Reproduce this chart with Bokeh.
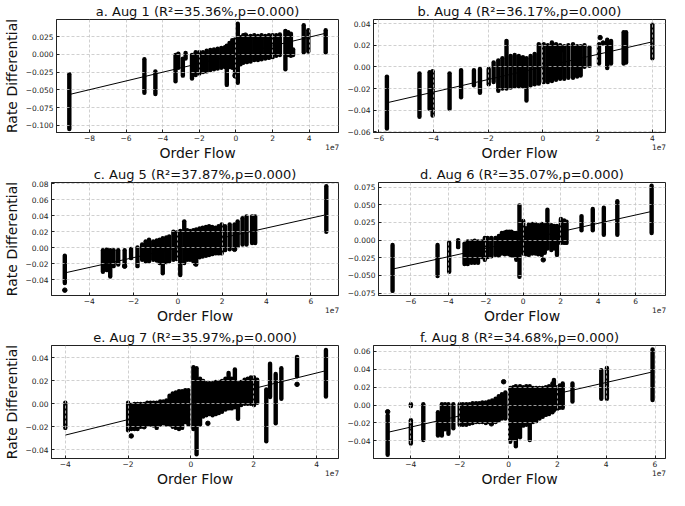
from bokeh.plotting import figure
from bokeh.layouts import column, row
from bokeh.models import (Range1d, ColumnDataSource, FixedTicker, CustomJSTickFormatter,
                          LinearAxis)
from bokeh.embed import file_html
from bokeh.resources import INLINE

FONT = "DejaVu Sans"

# ---------------- data (x in units of 1e7) ----------------
titles = ["a. Aug 1 (R²=35.36%,p=0.000)", "b. Aug 4 (R²=36.17%,p=0.000)",
          "c. Aug 5 (R²=37.87%,p=0.000)", "d. Aug 6 (R²=35.07%,p=0.000)",
          "e. Aug 7 (R²=35.97%,p=0.000)", "f. Aug 8 (R²=34.68%,p=0.000)"]
x_offset_text = "1e7"

# panel a: vertical clusters of points (x, lowest y, highest y)
a_x = [-9.10, -5.00, -4.40, -3.30, -3.15, -2.90, -2.75,
       -2.40, -2.20, -2.00, -1.80, -1.60, -1.40, -1.20, -1.00, -0.80, -0.60, -0.50, -0.35, -0.20, -0.05,
       0.10, 0.25, 0.40, 0.60, 0.80, 1.00, 1.20, 1.40, 1.60, 1.80, 2.00, 2.20, 2.40, 2.70, 2.85, 3.00, 3.12,
       3.70, 3.95, 4.90]
a_lo = [-0.105, -0.054, -0.056, -0.038, -0.019, -0.030, -0.006,
        -0.034, -0.029, -0.027, -0.025, -0.024, -0.022, -0.021, -0.020, -0.019, -0.018, -0.043, -0.018, -0.019, -0.031,
        -0.040, -0.014, -0.012, -0.011, -0.010, -0.008, -0.008, -0.007, -0.006, -0.005, -0.004, -0.002, -0.001, -0.021, -0.001, -0.002, -0.001,
        0.003, 0.004, 0.003]
a_hi = [-0.028, -0.007, -0.024, -0.001, 0.001, -0.006, 0.002,
        -0.001, 0.003, 0.003, 0.003, 0.005, 0.006, 0.007, 0.008, 0.009, 0.010, 0.012, 0.016, 0.020, 0.021,
        0.043, 0.024, 0.027, 0.025, 0.026, 0.027, 0.026, 0.027, 0.026, 0.027, 0.027, 0.027, 0.028, 0.033, 0.031, 0.029, 0.007,
        0.041, 0.034, 0.034]
a_px = [0.52, -0.05]
a_py = [0.027, -0.030]
a_slope, a_icpt = 0.00616, -0.0005

# panel b
b_x = [-5.70, -4.51, -4.14, -4.03, -3.41, -2.99, -2.52, -2.30, -1.98, -1.80,
       -1.63, -1.48, -1.33, -1.18, -1.03, -0.88, -0.73, -0.60, -0.45, -0.30, -0.15, 0.03, 0.18, 0.33,
       0.48, 0.63, 0.78, 0.93, 1.10, 1.25, 1.38,
       1.52, 1.70, 2.05, 2.35, 2.49, 2.95, 3.04, 4.00]
b_lo = [-0.057, -0.046, -0.039, -0.045, -0.039, -0.028, -0.017, -0.024, -0.016, -0.014,
        -0.022, -0.020, -0.020, -0.019, -0.018, -0.018, -0.018, -0.031, -0.017, -0.016, -0.0155, -0.014, -0.014, -0.013,
        -0.012, -0.011, -0.011, -0.010, -0.010, -0.009, -0.008,
        0.000, 0.001, 0.003, -0.001, 0.003, 0.003, 0.004, 0.008]
b_hi = [-0.009, -0.006, -0.005, -0.004, -0.006, -0.003, -0.003, -0.002, -0.002, 0.004,
        0.006, 0.008, 0.024, 0.010, 0.011, 0.010, 0.009, 0.008, 0.010, 0.012, 0.021, 0.021, 0.020, 0.0225,
        0.021, 0.020, 0.019, 0.020, 0.021, 0.019, 0.019,
        0.020, 0.018, 0.021, 0.025, 0.024, 0.032, 0.032, 0.039]
b_px = [2.09, 2.20, 0.70]
b_py = [0.027, 0.022, 0.016]
b_slope, b_icpt = 0.0058, -0.0001

# panel c
c_x = [-5.10, -3.38, -3.20, -3.05, -2.90, -2.69, -2.40, -2.11, -1.82,
       -1.61, -1.45, -1.30, -1.11, -0.95, -0.82, -0.68, -0.52, -0.39, -0.20, -0.05, 0.11, 0.29, 0.42,
       0.55, 0.70, 0.83, 0.98, 1.12, 1.27, 1.41, 1.55, 1.70, 1.84, 1.98, 2.13, 2.34,
       2.56, 2.70, 2.92, 3.10, 3.35, 3.49, 6.70]
c_lo = [-0.044, -0.030, -0.028, -0.036, -0.023, -0.021, -0.023, -0.013, -0.023,
        -0.015, -0.017, -0.017, -0.015, -0.016, -0.019, -0.032, -0.018, -0.017, -0.015, -0.014, -0.034, -0.019, -0.015,
        -0.015, -0.017, -0.021, -0.012, -0.011, -0.010, -0.009, -0.008, -0.007, -0.007, -0.007, -0.003, -0.002,
        0.000, 0.002, 0.004, 0.004, 0.006, 0.006, 0.020]
c_hi = [-0.010, -0.003, -0.002, -0.003, -0.003, -0.003, -0.003, -0.0015, 0.0004,
        0.004, 0.008, 0.010, 0.008, 0.009, 0.010, 0.012, 0.013, 0.014, 0.020, 0.019, 0.021, 0.033, 0.022,
        0.021, 0.022, 0.023, 0.024, 0.025, 0.026, 0.027, 0.026, 0.025, 0.027, 0.029, 0.027, 0.029,
        0.029, 0.033, 0.037, 0.039, 0.039, 0.039, 0.077]
c_px = [-5.10, 2.56, -2.40, 0.80]
c_py = [-0.053, -0.002, -0.023, -0.020]
c_slope, c_icpt = 0.00617, 0.0

# panel d
d_x = [-6.97, -4.57, -3.95, -3.47, -3.13, -2.96, -2.76, -2.59, -2.41, -2.21, -2.05,
       -1.90, -1.70, -1.48, -1.30, -1.14, -0.98, -0.88, -0.75, -0.63, -0.50, -0.37, -0.20, 0.00,
       0.15, 0.30, 0.48, 0.65, 0.80, 0.99, 1.15, 1.29, 1.50, 1.65, 1.80, 2.01, 2.18, 2.31,
       3.11, 3.71, 4.30, 5.02, 6.85]
d_lo = [-0.072, -0.051, -0.045, -0.010, -0.034, -0.034, -0.032, -0.032, -0.032, -0.024, -0.028,
        -0.024, -0.023, -0.021, -0.022, -0.019, -0.020, -0.019, -0.020, -0.019, -0.022, -0.028, -0.052, -0.019,
        -0.020, -0.021, -0.019, -0.019, -0.020, -0.021, -0.018, -0.012, -0.014, -0.012, -0.021, -0.004, -0.004, -0.004,
        0.014, 0.014, 0.0075, 0.0075, 0.010]
d_hi = [-0.007, -0.007, -0.0035, 0.000, -0.005, -0.002, -0.002, -0.001, -0.002, -0.002, 0.003,
        0.003, 0.003, 0.003, 0.006, 0.010, 0.011, 0.012, 0.012, 0.012, 0.010, 0.010, 0.049, 0.027,
        0.017, 0.022, 0.023, 0.023, 0.021, 0.023, 0.021, 0.043, 0.021, 0.020, 0.020, 0.030, 0.028, 0.026,
        0.034, 0.044, 0.046, 0.055, 0.077]
d_px = [1.07, -0.63]
d_py = [-0.028, -0.021]
d_slope, d_icpt = 0.00591, 0.0001

# panel e
e_x = [-4.00, -2.00,
       -1.90, -1.80, -1.70, -1.60, -1.49, -1.39, -1.29, -1.19, -1.09, -0.98, -0.88, -0.78, -0.68, -0.58,
       -0.48, -0.38, -0.28, -0.18, -0.08, 0.08, 0.18, 0.29, 0.39, 0.49, 0.59, 0.69, 0.79, 0.89, 0.99,
       1.10, 1.20, 1.30, 1.40, 1.50, 1.60, 1.71, 1.81, 1.91, 2.01, 2.11,
       2.40, 2.52, 2.70, 2.88, 3.38, 4.30]
e_lo = [-0.021, -0.023,
        -0.022, -0.022, -0.022, -0.020, -0.017, -0.018, -0.018, -0.019, -0.021, -0.018, -0.017, -0.018, -0.018, -0.020,
        -0.021, -0.022, -0.021, -0.016, -0.018, -0.022, -0.044, -0.018, -0.011, -0.010, -0.009, -0.010, -0.009, -0.008, -0.007,
        -0.005, -0.004, -0.004, -0.003, -0.013, -0.001, 0.000, 0.000, 0.000, -0.001, 0.001,
        -0.0326, 0.006, -0.017, 0.0045, 0.024, 0.0064]
e_hi = [0.001, 0.001,
        -0.001, 0.000, 0.000, 0.000, 0.000, 0.001, 0.001, 0.001, 0.001, 0.002, 0.002, 0.003, 0.007, 0.009,
        0.010, 0.011, 0.011, 0.012, 0.012, 0.032, 0.031, 0.022, 0.020, 0.018, 0.018, 0.018, 0.019, 0.019, 0.020,
        0.022, 0.027, 0.022, 0.030, 0.018, 0.019, 0.021, 0.022, 0.023, 0.023, 0.021,
        0.0125, 0.035, 0.026, 0.031, 0.041, 0.047]
e_px = [-1.90, 3.38, -1.49, 0.54, -0.55]
e_py = [-0.028, 0.017, -0.020, -0.017, -0.018]
e_slope, e_icpt = 0.00677, -0.0002

# panel f
f_x = [-4.95, -4.00, -4.00, -3.49, -2.89, -2.73, -2.60, -2.46, -2.26,
       -2.00, -1.87, -1.73, -1.60, -1.47, -1.33, -1.20, -1.07, -0.93, -0.80, -0.67, -0.53, -0.40, -0.27,
       -0.13, 0.07, 0.20, 0.30, 0.47, 0.60, 0.73, 0.87, 1.00, 1.13, 1.27, 1.40, 1.53, 1.66, 1.80,
       1.86, 2.00, 2.10, 2.22, 2.62, 3.80, 4.03, 5.90]
f_lo = [-0.0556, -0.001, -0.043, -0.039, -0.034, -0.034, -0.027, -0.032, -0.026,
        -0.022, -0.022, -0.022, -0.021, -0.020, -0.019, -0.019, -0.019, -0.020, -0.019, -0.019, -0.019, -0.017, -0.015,
        -0.015, -0.041, -0.037, -0.046, -0.036, -0.023, -0.022, -0.039, -0.019, -0.018, -0.015, -0.013, -0.011, -0.010, -0.008,
        -0.006, -0.004, -0.003, -0.003, 0.004, 0.007, 0.007, 0.0055]
f_hi = [-0.0117, 0.001, -0.017, 0.001, -0.008, 0.001, 0.001, 0.001, 0.001,
        0.001, 0.001, 0.001, 0.001, 0.002, 0.002, 0.002, 0.003, 0.003, 0.004, 0.005, 0.007, 0.010, 0.012,
        0.014, 0.019, 0.020, 0.021, 0.021, 0.020, 0.021, 0.021, 0.019, 0.019, 0.019, 0.019, 0.020, 0.021, 0.024,
        0.028, 0.020, 0.022, 0.024, 0.024, 0.039, 0.0415, 0.062]
f_px = [-4.95, -0.20, -0.70]
f_py = [-0.0075, 0.026, -0.021]
f_slope, f_icpt = 0.00622, 0.0003

# axis settings
x_ticks = [[-8, -6, -4, -2, 0, 2, 4], [-6, -4, -2, 0, 2, 4], [-4, -2, 0, 2, 4, 6],
           [-6, -4, -2, 0, 2, 4, 6], [-4, -2, 0, 2, 4], [-4, -2, 0, 2, 4, 6]]
y_ticks = [[-0.100, -0.075, -0.050, -0.025, 0.0, 0.025],
           [-0.06, -0.04, -0.02, 0.0, 0.02, 0.04],
           [-0.04, -0.02, 0.0, 0.02, 0.04, 0.06, 0.08],
           [-0.075, -0.050, -0.025, 0.0, 0.025, 0.050, 0.075],
           [-0.04, -0.02, 0.0, 0.02, 0.04],
           [-0.06, -0.04, -0.02, 0.0, 0.02, 0.04, 0.06]]
y_decimals = [3, 2, 2, 3, 2, 2]
x_lims = [(-9.8, 5.6), (-6.19, 4.48), (-5.7, 7.25), (-7.72, 7.59), (-4.44, 4.70), (-5.53, 6.43)]
y_lims = [(-0.110, 0.049), (-0.0606, 0.0437), (-0.0597, 0.0816), (-0.0785, 0.0816),
          (-0.0477, 0.0509), (-0.0597, 0.0665)]

panels = [(a_x, a_lo, a_hi, a_px, a_py, a_slope, a_icpt),
          (b_x, b_lo, b_hi, b_px, b_py, b_slope, b_icpt),
          (c_x, c_lo, c_hi, c_px, c_py, c_slope, c_icpt),
          (d_x, d_lo, d_hi, d_px, d_py, d_slope, d_icpt),
          (e_x, e_lo, e_hi, e_px, e_py, e_slope, e_icpt),
          (f_x, f_lo, f_hi, f_px, f_py, f_slope, f_icpt)]


def style_axis(ax):
    ax.major_tick_in = 3
    ax.major_tick_out = 0
    ax.minor_tick_line_color = None
    ax.axis_line_color = "#222222"
    ax.major_tick_line_color = "#222222"
    ax.major_label_text_font = FONT
    ax.major_label_text_font_size = "7.5px"
    ax.major_label_text_color = "#222222"
    ax.axis_label_text_font = FONT
    ax.axis_label_text_font_size = "14px"
    ax.axis_label_text_font_style = "normal"
    ax.axis_label_text_color = "#111111"


def make_panel(i):
    xs, lo, hi, px, py, slope, icpt = panels[i]
    left = (i % 2 == 0)
    xlo, xhi = x_lims[i]
    p = figure(width=344 if left else 325, height=163,
               output_backend="svg", toolbar_location=None,
               x_range=Range1d(xlo, xhi), y_range=Range1d(*y_lims[i]),
               min_border_left=10, min_border_right=6 if left else 4,
               min_border_top=0, min_border_bottom=0)
    p.title.text = titles[i]
    p.title.align = "center"
    p.title.text_font = FONT
    p.title.text_font_size = "13px"
    p.title.text_font_style = "normal"
    p.title.text_color = "#111111"
    p.title.standoff = 2

    p.background_fill_color = "white"
    p.border_fill_color = "white"
    p.outline_line_color = "#222222"
    p.outline_line_width = 1
    p.outline_line_alpha = 1

    # grid drawn above the point cloud (as in the original)
    p.grid.grid_line_color = "#c4c4c4"
    p.grid.grid_line_dash = "3 2"
    p.grid.grid_line_width = 0.8

    xax = p.below[0]
    yax = p.left[0]
    style_axis(xax)
    style_axis(yax)
    xax.ticker = FixedTicker(ticks=x_ticks[i])
    xax.formatter = CustomJSTickFormatter(code="return tick.toFixed(0).replace('-', '\u2212');")
    xax.major_label_standoff = 2
    yax.ticker = FixedTicker(ticks=y_ticks[i])
    yax.formatter = CustomJSTickFormatter(
        code="return tick.toFixed(%d).replace('-', '\u2212');" % y_decimals[i])
    yax.major_label_standoff = 3
    yax.axis_label_standoff = 3
    if left:
        yax.axis_label = "Rate Differential"

    # second row below the axis: scale-offset text "1e7" at the right end, and the axis title
    off_ax = LinearAxis(ticker=FixedTicker(ticks=[xhi - 0.022 * (xhi - xlo)]),
                        formatter=CustomJSTickFormatter(code="return '%s';" % x_offset_text))
    style_axis(off_ax)
    off_ax.major_tick_in = 0
    off_ax.axis_line_color = None
    off_ax.major_tick_line_color = None
    off_ax.major_label_standoff = 0
    off_ax.axis_label = "Order Flow"
    off_ax.axis_label_standoff = -8
    p.add_layout(off_ax, "below")

    src = ColumnDataSource(dict(x=xs, lo=lo, hi=hi))
    p.segment(x0="x", y0="lo", x1="x", y1="hi", source=src, line_width=4.4,
              line_cap="round", line_color="black", level="image")
    p.scatter(px, py, size=4.5, color="black", level="image")

    x0, x1 = min(xs), max(xs)
    p.line([x0, x1], [icpt + slope * x0, icpt + slope * x1], line_color="black", line_width=1)
    return p


figs = [make_panel(i) for i in range(6)]
layout = column(row(figs[0], figs[1]), row(figs[2], figs[3]), row(figs[4], figs[5]))

with open("out.html", "w") as fh:
    fh.write(file_html(layout, INLINE))
